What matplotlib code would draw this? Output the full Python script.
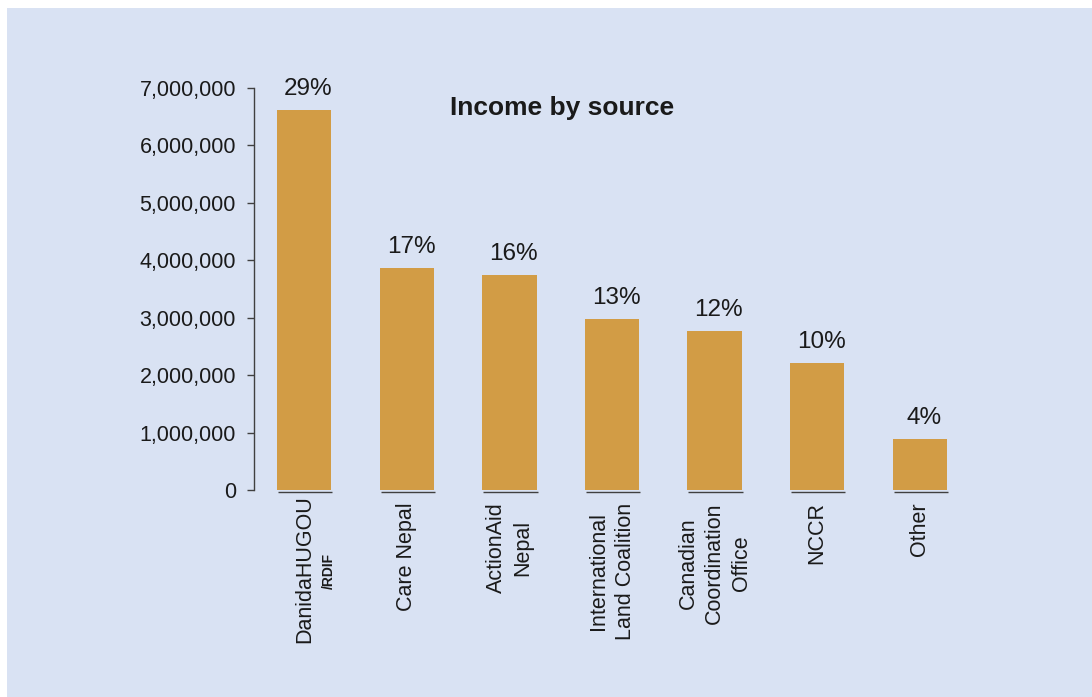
import matplotlib
matplotlib.use("Agg")
import matplotlib.pyplot as plt
import matplotlib.transforms as mtransforms
from matplotlib.patches import Rectangle
from matplotlib.ticker import FuncFormatter

plt.rcParams['font.family'] = ['Liberation Sans', 'DejaVu Sans']

# data
sources = ['DanidaHUGOU', 'Care Nepal', 'ActionAid\nNepal', 'International\nLand Coalition',
           'Canadian\nCoordination\nOffice', 'NCCR', 'Other']
income = [6620000, 3870000, 3750000, 2980000, 2770000, 2210000, 890000]
shares = ['29%', '17%', '16%', '13%', '12%', '10%', '4%']

bar_color = '#D29C45'
panel_color = '#D9E2F3'
text_color = '#1a1a1a'

fig = plt.figure(figsize=(10.92, 6.97), dpi=100, facecolor='white')
# light blue panel behind everything
fig.patches.append(Rectangle((7 / 1092, 0), 1, 689 / 697, transform=fig.transFigure,
                             facecolor=panel_color, edgecolor='none', zorder=-10))

ax = fig.add_axes([0.2326, 0.297, 0.6566, 0.5767])
ax.set_facecolor('none')

x = list(range(len(sources)))
w = 0.53
bars = ax.bar(x, income, width=w, color=bar_color, zorder=2)

# dark base line under each bar
base = mtransforms.offset_copy(ax.transData, fig=fig, y=-2, units='dots')
for xi in x:
    ax.plot([xi - w / 2 + 0.01, xi + w / 2 + 0.01], [0, 0], color='#404040', lw=1,
            transform=base, solid_capstyle='butt', zorder=3, clip_on=False)

for b, s in zip(bars, shares):
    ax.annotate(s, (b.get_x() + b.get_width() / 2, b.get_height()),
                xytext=(3, 7), textcoords='offset points', ha='center', va='bottom',
                fontsize=17.5, color=text_color)

ax.set_ylim(0, 7000000)
ax.set_xlim(-0.49, 6.5)
ax.set_yticks(range(0, 7000001, 1000000))
ax.yaxis.set_major_formatter(FuncFormatter(lambda v, p: f'{int(v):,}'))
ax.tick_params(axis='y', labelsize=15.5, length=5, width=1, color='#404040',
               pad=8, labelcolor=text_color)

ax.set_xticks(x)
ax.set_xticklabels(sources, rotation=90, ha='center', va='top', multialignment='center',
                   fontsize=15.5, color=text_color, linespacing=1.35)
ax.tick_params(axis='x', length=0, pad=9)
# first label sits a little higher in the original
lab0 = ax.get_xticklabels()[0]
lab0.set_transform(lab0.get_transform() + mtransforms.ScaledTranslation(0, 7 / 100, fig.dpi_scale_trans))

# small subtitle part of the first label
ax.text(0.24, -0.2015, '/RDIF', transform=ax.get_xaxis_transform(), rotation=90,
        ha='center', va='center', fontsize=10, fontweight='bold', color=text_color)

for sp in ['top', 'right', 'bottom']:
    ax.spines[sp].set_visible(False)
ax.spines['left'].set_color('#404040')
ax.spines['left'].set_linewidth(1)

ax.text(0.4296, 0.95, 'Income by source', transform=ax.transAxes, ha='center',
        va='center', fontsize=19, fontweight='bold', color=text_color)

plt.savefig('out.png', dpi=100, facecolor='white')
